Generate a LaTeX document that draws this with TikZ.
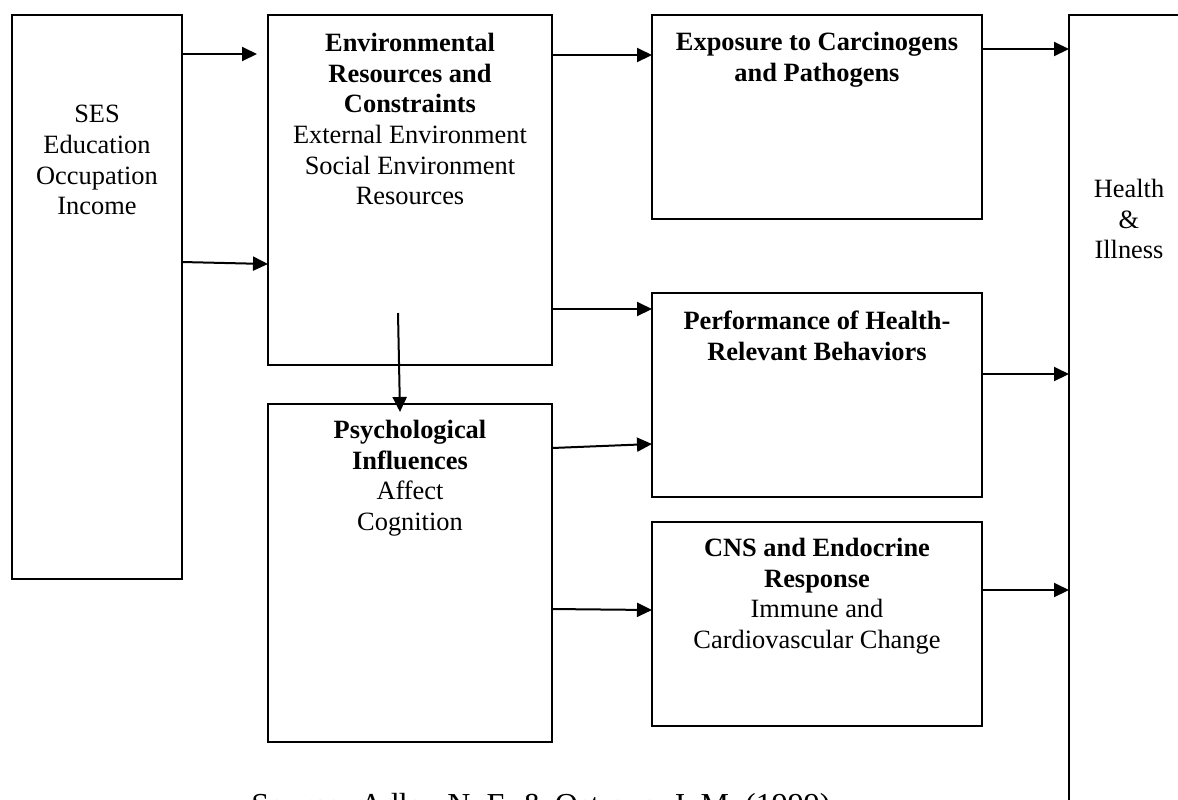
\documentclass[tikz,border=0pt]{standalone}
\usepackage{fontspec}
\setmainfont{Liberation Serif}
\usepackage{tikz}
\usetikzlibrary{positioning,calc,arrows.meta}

\begin{document}
\begin{tikzpicture}[x=0.5pt,y=-0.5pt,
                    box/.style={draw,line width=1pt,rectangle,anchor=north west,inner sep=0pt,outer sep=0pt},
                    lbl/.style={anchor=north,align=center,inner sep=0pt,font={\fontsize{13.2}{15.3}\selectfont}},
                    arr/.style={-{Triangle[length=7.5pt,width=7pt]},line width=1pt}]
  \useasboundingbox (0,0) rectangle (1178,799);
  \node[box,minimum width=85pt,minimum height=282pt,
        label={[lbl,yshift=-45pt]90:SES\\Education\\Occupation\\Income}] (ses) at (12,15) {};
  \node[box,minimum width=142pt,minimum height=175pt,
        label={[lbl,yshift=-9pt]90:\textbf{Environmental}\\\textbf{Resources and}\\\textbf{Constraints}\\External Environment\\Social Environment\\Resources}] (env) at (268,15) {};
  \node[box,minimum width=142pt,minimum height=169pt,
        label={[lbl,yshift=-8pt]90:\textbf{Psychological}\\\textbf{Influences}\\Affect\\Cognition}] (psych) [below=19.5pt of env] {};
  \node[box,minimum width=165pt,minimum height=102pt,
        label={[lbl,yshift=-8.5pt]90:\textbf{Exposure to Carcinogens}\\\textbf{and Pathogens}}] (exp) at (652,15) {};
  \node[box,minimum width=165pt,minimum height=102pt,
        label={[lbl,yshift=-9pt]90:\textbf{Performance of Health-}\\\textbf{Relevant Behaviors}}] (perf) [below=37pt of exp] {};
  \node[box,minimum width=165pt,minimum height=102pt,
        label={[lbl,yshift=-8pt]90:\textbf{CNS and Endocrine}\\\textbf{Response}\\Immune and\\Cardiovascular Change}] (cns) [below=12.5pt of perf] {};
  \node[box,minimum width=60pt,minimum height=412.5pt,
        label={[lbl,yshift=-82pt]90:Health\\\&\\Illness}] (health) at (1069,15) {};
  \node[anchor=base west,inner sep=0pt,font={\fontsize{16}{19}\selectfont}] (source) at (251,815) {Source: Adler, N. E. \& Ostrove, J. M. (1999)};
  \draw[arr] ($(ses.north east)+(0,39)$) -- ($(env.north west)+(-11,39)$);
  \draw[arr] ($(ses.north east)+(0,247)$) -- ($(env.north west)+(0,249)$);
  \draw[arr] ($(env.north east)+(0,40)$) -- ($(exp.north west)+(0,40)$);
  \draw[arr] ($(env.north east)+(0,294)$) -- ($(perf.north west)+(0,16)$);
  \draw[arr] ($(env.south)+(-12,-52)$) -- ($(psych.north)+(-10,8)$);
  \draw[arr] ($(psych.north east)+(0,44)$) -- ($(perf.north west)+(0,151)$);
  \draw[arr] ($(psych.north east)+(0,205)$) -- ($(cns.north west)+(0,88)$);
  \draw[arr] ($(exp.north east)+(0,34)$) -- ($(health.north west)+(0,34)$);
  \draw[arr] ($(perf.north east)+(0,81)$) -- ($(health.north west)+(0,359)$);
  \draw[arr] ($(cns.north east)+(0,68)$) -- ($(health.north west)+(0,575)$);
\end{tikzpicture}
\end{document}
